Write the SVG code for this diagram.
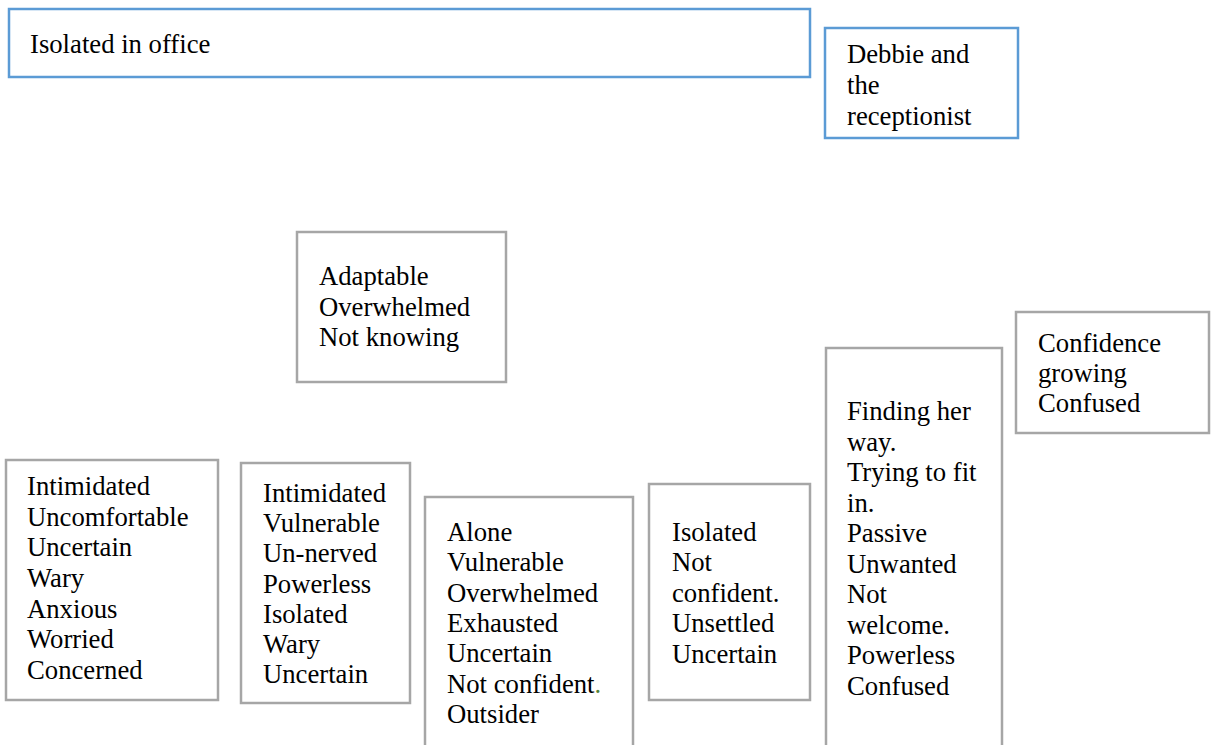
<svg xmlns="http://www.w3.org/2000/svg" width="1216" height="745" viewBox="0 0 1216 745">
  <style>
    .blue { fill: #ffffff; stroke: #5b9bd5; stroke-width: 2.5; }
    .gray { fill: #ffffff; stroke: #a6a6a6; stroke-width: 2.5; }
    text { font-family: 'Liberation Serif', Tinos, 'Times New Roman', Times, 'DejaVu Serif', serif; font-size: 26.7px; fill: #000000; }
    .dot { fill: #548235; }
  </style>
  <rect width="1216" height="745" fill="#ffffff"/>

  <g id="isolated-in-office">
    <rect class="blue" x="9" y="9" width="801" height="68"/>
    <text x="30" y="53">Isolated in office</text>
  </g>

  <g id="debbie-receptionist">
    <rect class="blue" x="825" y="28" width="193" height="110"/>
    <text x="847" y="63">Debbie and</text>
    <text x="847" y="94">the</text>
    <text x="847" y="125">receptionist</text>
  </g>

  <g id="adaptable">
    <rect class="gray" x="297" y="232" width="209" height="150"/>
    <text x="319" y="285">Adaptable</text>
    <text x="319" y="316">Overwhelmed</text>
    <text x="319" y="346">Not knowing</text>
  </g>

  <g id="intimidated-1">
    <rect class="gray" x="6" y="460" width="212" height="240"/>
    <text x="27" y="495">Intimidated</text>
    <text x="27" y="526">Uncomfortable</text>
    <text x="27" y="556">Uncertain</text>
    <text x="27" y="587">Wary</text>
    <text x="27" y="618">Anxious</text>
    <text x="27" y="648">Worried</text>
    <text x="27" y="679">Concerned</text>
  </g>

  <g id="intimidated-2">
    <rect class="gray" x="241" y="463" width="169" height="240"/>
    <text x="263" y="502">Intimidated</text>
    <text x="263" y="532">Vulnerable</text>
    <text x="263" y="562">Un-nerved</text>
    <text x="263" y="593">Powerless</text>
    <text x="263" y="623">Isolated</text>
    <text x="263" y="653">Wary</text>
    <text x="263" y="683">Uncertain</text>
  </g>

  <g id="alone">
    <rect class="gray" x="425" y="497" width="208" height="270"/>
    <text x="447" y="541">Alone</text>
    <text x="447" y="571">Vulnerable</text>
    <text x="447" y="602">Overwhelmed</text>
    <text x="447" y="632">Exhausted</text>
    <text x="447" y="662">Uncertain</text>
    <text x="447" y="693">Not confident<tspan class="dot">.</tspan></text>
    <text x="447" y="723">Outsider</text>
  </g>

  <g id="isolated">
    <rect class="gray" x="649" y="484" width="161" height="216"/>
    <text x="672" y="541">Isolated</text>
    <text x="672" y="571">Not</text>
    <text x="672" y="602">confident.</text>
    <text x="672" y="632">Unsettled</text>
    <text x="672" y="663">Uncertain</text>
  </g>

  <g id="finding-her-way">
    <rect class="gray" x="826" y="348" width="176" height="420"/>
    <text x="847" y="420">Finding her</text>
    <text x="847" y="451">way.</text>
    <text x="847" y="481">Trying to fit</text>
    <text x="847" y="512">in.</text>
    <text x="847" y="542">Passive</text>
    <text x="847" y="573">Unwanted</text>
    <text x="847" y="603">Not</text>
    <text x="847" y="634">welcome.</text>
    <text x="847" y="664">Powerless</text>
    <text x="847" y="695">Confused</text>
  </g>

  <g id="confidence-growing">
    <rect class="gray" x="1016" y="312" width="193" height="121"/>
    <text x="1038" y="352">Confidence</text>
    <text x="1038" y="382">growing</text>
    <text x="1038" y="412">Confused</text>
  </g>

  <g id="connectors"/>
</svg>
